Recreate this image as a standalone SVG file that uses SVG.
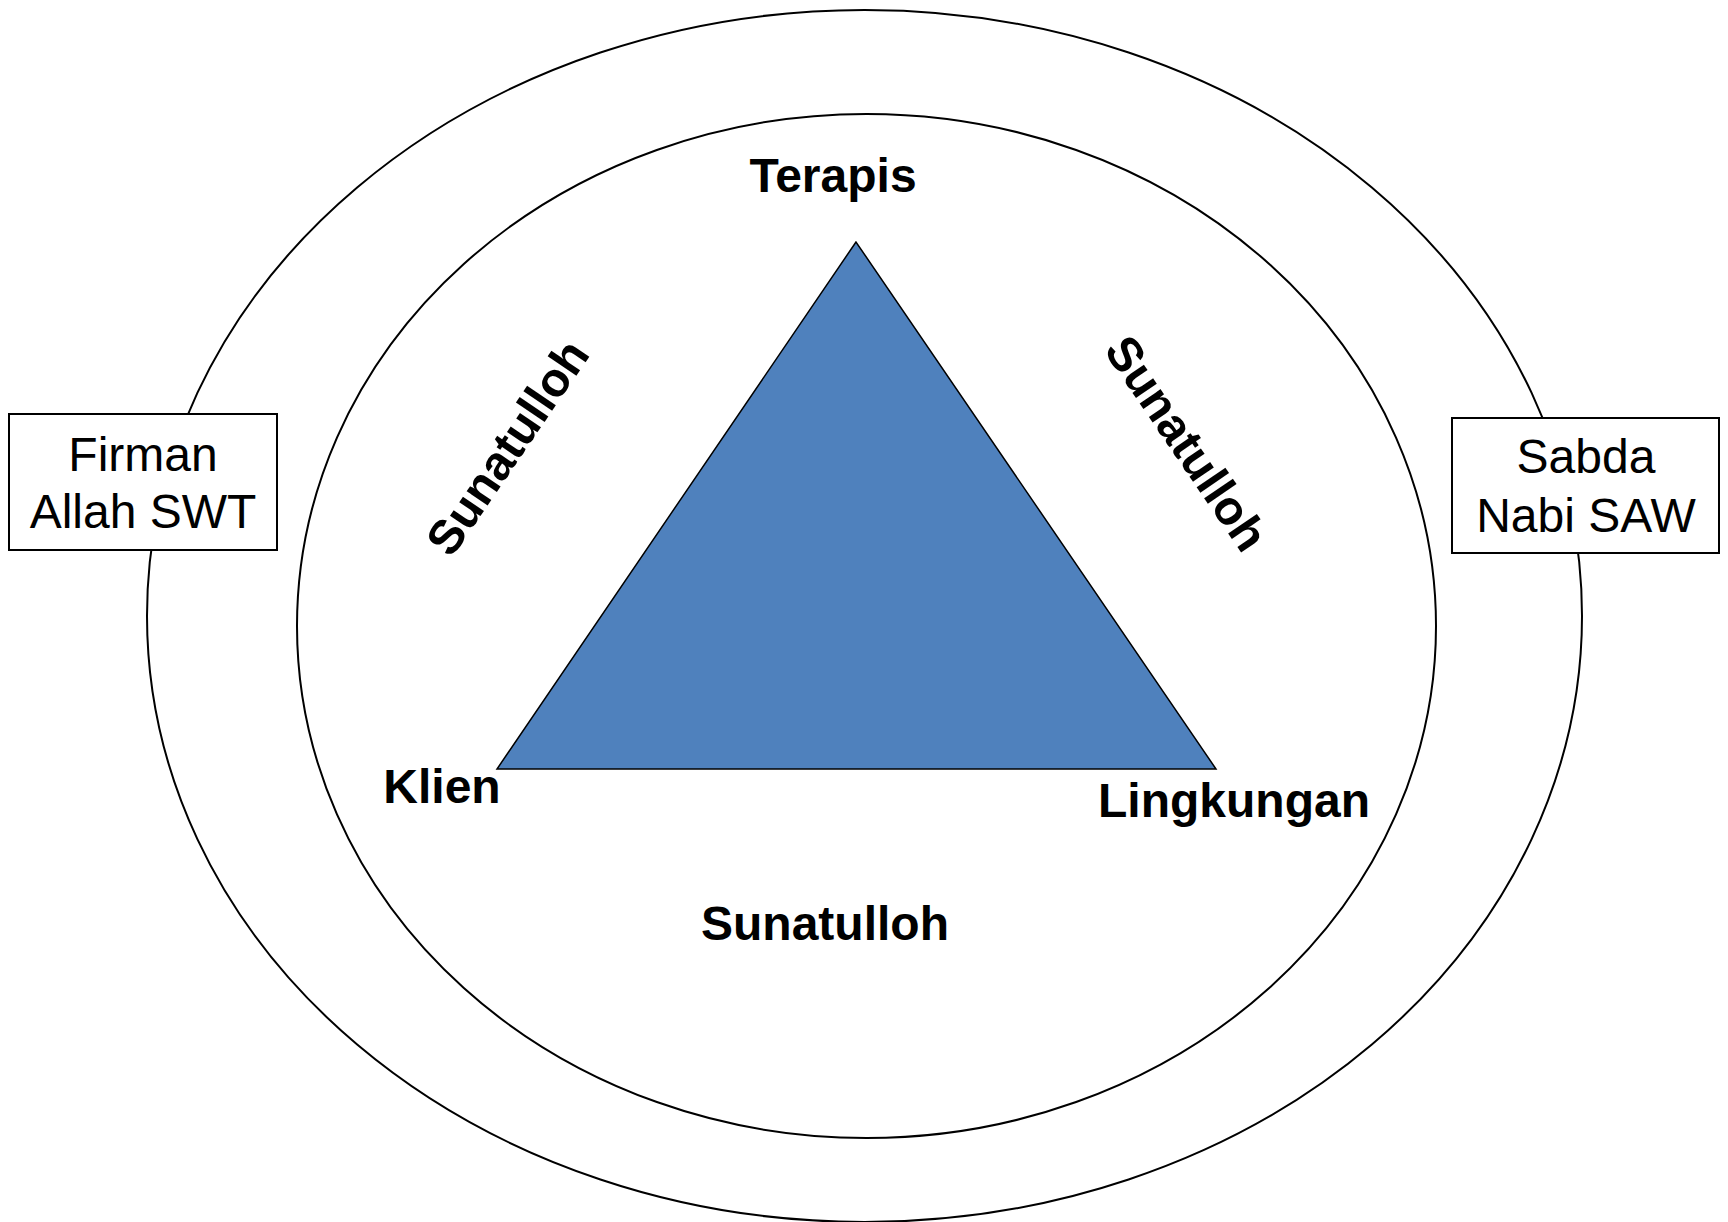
<svg xmlns="http://www.w3.org/2000/svg" width="1728" height="1222" viewBox="0 0 1728 1222">
<style>
.ring{fill:none;stroke:#000;stroke-width:2}
.box{fill:#fff;stroke:#000;stroke-width:2}
.reg{font-family:"Liberation Sans",Arial,sans-serif;font-size:48px;fill:#000;text-anchor:middle}
.bold{font-family:"Liberation Sans",Arial,sans-serif;font-size:48px;font-weight:bold;fill:#000;text-anchor:middle}
</style>
<rect width="1728" height="1222" fill="#fff"/>
<g id="outer-ring"><ellipse class="ring" cx="864.5" cy="616" rx="717.5" ry="606"/></g>
<g id="inner-ring"><ellipse class="ring" cx="866.5" cy="626" rx="569.5" ry="512"/></g>
<g id="triangle"><polygon points="856,242 497,769 1216,769" fill="#4F81BD" stroke="#000" stroke-width="1.5" stroke-linejoin="miter"/></g>
<g id="firman"><rect class="box" x="9" y="414" width="268" height="136"/>
<text class="reg" x="143" y="471">Firman</text><text class="reg" x="143" y="528">Allah SWT</text></g>
<g id="sabda"><rect class="box" x="1452" y="418" width="267" height="135"/>
<text class="reg" x="1586" y="473">Sabda</text><text class="reg" x="1586" y="532">Nabi SAW</text></g>
<g id="terapis"><text class="bold" x="833" y="192">Terapis</text></g>
<g id="klien"><text class="bold" x="442" y="803">Klien</text></g>
<g id="lingkungan"><text class="bold" x="1234" y="817">Lingkungan</text></g>
<g id="sunatulloh-bottom"><text class="bold" x="825" y="940">Sunatulloh</text></g>
<g id="sunatulloh-left"><text class="bold" transform="translate(507,447) rotate(-55.7)" x="0" y="17">Sunatulloh</text></g>
<g id="sunatulloh-right"><text class="bold" transform="translate(1187,443) rotate(55.7)" x="0" y="17">Sunatulloh</text></g>
<g id="connectors"></g>
</svg>
